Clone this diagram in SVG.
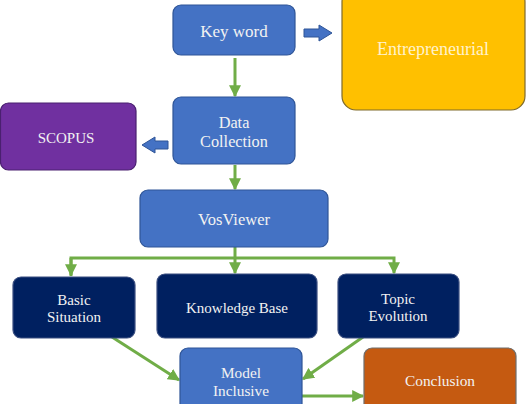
<svg xmlns="http://www.w3.org/2000/svg" width="528" height="404" viewBox="0 0 528 404">
<style>
.n{stroke-width:1.2}
.blue{fill:#4472C4;stroke:#2F5597}
.gold{fill:#FFC000;stroke:#7F6A2A}
.purple{fill:#7030A0;stroke:#4A2070}
.navy{fill:#002060;stroke:#3A4E80}
.orange{fill:#C55A11;stroke:#6E6E6E}
text{font-family:"Liberation Serif",serif;fill:#F2F2F2;text-anchor:middle}
.g{stroke:#70AD47;stroke-width:3;fill:none}
.bigarrow{fill:#4472C4;stroke:#2F5597;stroke-width:1}
</style>
<defs>
<marker id="ah" viewBox="0 0 10 10" refX="9" refY="5" markerWidth="4" markerHeight="4" orient="auto" markerUnits="strokeWidth">
<path d="M0,0 L10,5 L0,10 z" fill="#70AD47"/>
</marker>
</defs>
<g id="connectors">
<path class="g" d="M235,58 V96" marker-end="url(#ah)"/>
<path class="g" d="M235,165 V189" marker-end="url(#ah)"/>
<path class="g" d="M235,247 V273" marker-end="url(#ah)"/>
<path class="g" d="M71,276 V258 H394 V273" marker-end="url(#ah)"/>
<path class="g" d="M71,258 V275" marker-end="url(#ah)"/>
<path class="g" d="M112,337 L179,380" marker-end="url(#ah)"/>
<path class="g" d="M363,337 L303,379" marker-end="url(#ah)"/>
<path class="g" d="M302,396 H363" marker-end="url(#ah)"/>
<path class="bigarrow" d="M304,29 H319 V25 L332,33 L319,41 V37 H304 Z"/>
<path class="bigarrow" d="M168,141 H155 V137 L142,145 L155,153 V149 H168 Z"/>
</g>
<g id="keyword">
<rect class="n blue" x="173" y="5" width="122" height="50" rx="8"/>
<text x="234" y="37" font-size="17">Key word</text>
</g>
<g id="entrepreneurial">
<rect class="n gold" x="342" y="-12" width="183" height="122" rx="14"/>
<text x="433" y="55" font-size="18" style="fill:#FFF2CC">Entrepreneurial</text>
</g>
<g id="datacollection">
<rect class="n blue" x="173" y="97" width="122" height="67" rx="8"/>
<text x="234" y="128" font-size="16.3">Data</text>
<text x="234" y="147" font-size="16.3">Collection</text>
</g>
<g id="scopus">
<rect class="n purple" x="0.5" y="103" width="135.5" height="67" rx="8"/>
<text x="66" y="143" font-size="15">SCOPUS</text>
</g>
<g id="vosviewer">
<rect class="n blue" x="140" y="190" width="188" height="57" rx="8"/>
<text x="234" y="225" font-size="16.5">VosViewer</text>
</g>
<g id="basicsituation">
<rect class="n navy" x="13" y="277" width="122" height="61" rx="8"/>
<text x="74" y="305" font-size="15">Basic</text>
<text x="74" y="322" font-size="15">Situation</text>
</g>
<g id="knowledgebase">
<rect class="n navy" x="157" y="274" width="160" height="64" rx="8"/>
<text x="237" y="313" font-size="15">Knowledge Base</text>
</g>
<g id="topicevolution">
<rect class="n navy" x="338" y="274" width="121" height="64" rx="8"/>
<text x="398" y="304" font-size="15">Topic</text>
<text x="398" y="321" font-size="15">Evolution</text>
</g>
<g id="modelinclusive">
<rect class="n blue" x="180" y="348" width="122" height="70" rx="8"/>
<text x="241" y="378" font-size="15.3">Model</text>
<text x="241" y="396" font-size="15.3">Inclusive</text>
</g>
<g id="conclusion">
<rect class="n orange" x="364" y="348" width="152" height="70" rx="8"/>
<text x="440" y="386" font-size="15.4">Conclusion</text>
</g>
</svg>
